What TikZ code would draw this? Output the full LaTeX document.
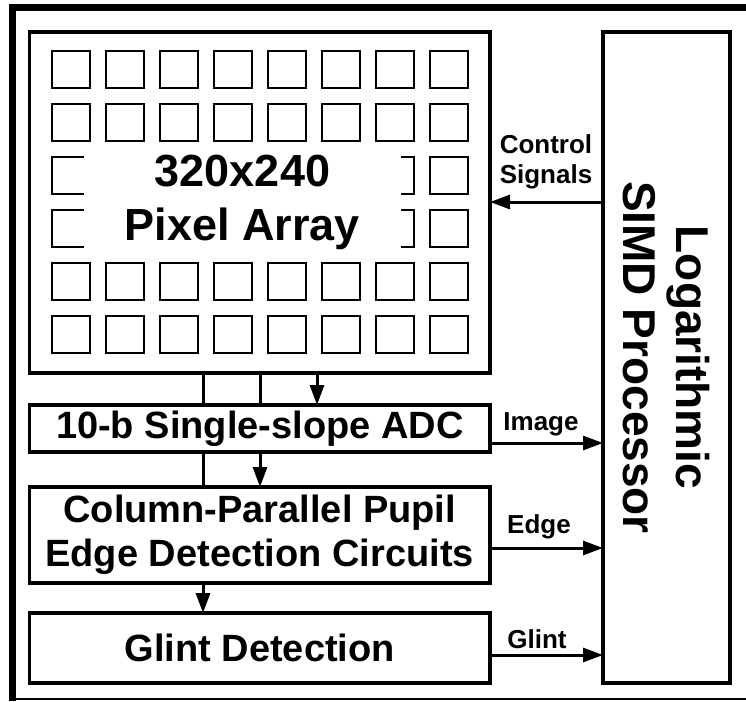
\documentclass[tikz,border=0pt]{standalone}
\usepackage{fontspec}
\setmainfont{Liberation Sans}
\usetikzlibrary{arrows.meta}
\begin{document}
\begin{tikzpicture}[x=1pt,y=-1pt,
  box/.style={draw, line width=3.2pt, inner sep=0pt, outer sep=0pt, align=center, font=\bfseries\fontsize{38}{44}\selectfont},
  pix/.style={draw, line width=2pt},
  conn/.style={line width=3pt},
  arr/.style={line width=3pt, -{Triangle[length=20pt,width=14pt]}},
  lbl/.style={inner sep=0pt, font=\bfseries\fontsize{26}{30}\selectfont, align=center}]
\useasboundingbox (0,0) rectangle (746,701);
\fill[white] (0,0) rectangle (746,701);
% outer frame
\draw[line width=7pt, line join=miter] (12,701) -- (12,8) -- (750,8);
\draw[line width=1.5pt] (12,699) -- (746,699);
% pixel array box
\node[box, minimum width=460.5pt, minimum height=341pt] (pa) at (259.75,202.5) {};
\foreach \i in {0,...,7}{
  \foreach \j in {0,...,5}{
    \draw[pix] ({52+54*\i},{51+53*\j}) rectangle ++(38,37);
  }
}
\node[fill=white, inner sep=0pt, minimum width=317pt, minimum height=108pt, align=center,
  font=\bfseries\fontsize{45}{54}\selectfont] (patext) at (242.5,202) {320x240\\Pixel Array};
% other boxes
\node[box, minimum width=460.5pt, minimum height=47pt] (adc) at (259.75,428.5) {10-b Single-slope ADC};
\node[box, minimum width=460.5pt, minimum height=96pt] (col) at (259.75,535) {Column-Parallel Pupil\\Edge Detection Circuits};
\node[box, minimum width=460.5pt, minimum height=70pt] (gl) at (259.75,648) {Glint Detection};
\node[box, minimum width=127pt, minimum height=651pt] (proc) at (666.5,357.5) {};
\node[rotate=-90, align=center, inner sep=0pt, font=\bfseries\fontsize{46}{53}\selectfont] (proctext) at (proc.center) {Logarithmic\\SIMD Processor};
% vertical connectors
\coordinate (xa) at (203,0);
\coordinate (xb) at (260,0);
\coordinate (xc) at (317,0);
\draw[conn] (xa |- pa.south) -- (xa |- adc.north);
\draw[conn] (xb |- pa.south) -- (xb |- adc.north);
\draw[arr] (xc |- pa.south) -- (xc |- adc.north);
\draw[conn] (xa |- adc.south) -- (xa |- col.north);
\draw[arr] (xb |- adc.south) -- (xb |- col.north);
\draw[arr] (xa |- col.south) -- (xa |- gl.north);
% horizontal connectors
\coordinate (yctl) at (0,202);
\coordinate (yimg) at (0,443);
\coordinate (yedg) at (0,548);
\coordinate (ygl) at (0,655);
\draw[arr] (proc.west |- yctl) -- (pa.east |- yctl);
\draw[arr] (adc.east |- yimg) -- (proc.west |- yimg);
\draw[arr] (col.east |- yedg) -- (proc.west |- yedg);
\draw[arr] (gl.east |- ygl) -- (proc.west |- ygl);
% labels
\node[lbl, anchor=south] (lctl) at (546,189) {Control\\Signals};
\node[lbl, anchor=base] (limg) at (541,430) {Image};
\node[lbl, anchor=base] (ledg) at (539,533) {Edge};
\node[lbl, anchor=base] (lgl) at (537,648) {Glint};
\end{tikzpicture}
\end{document}
